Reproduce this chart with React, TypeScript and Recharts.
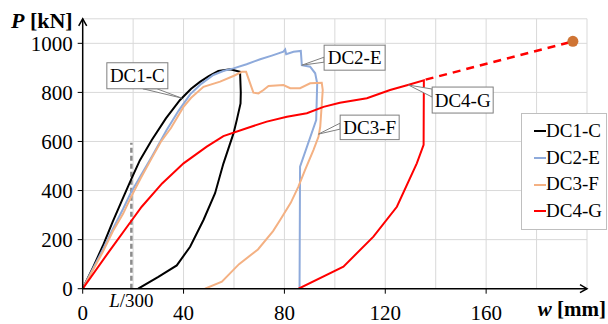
import {
  ComposedChart,
  Line,
  XAxis,
  YAxis,
  ReferenceLine,
  ReferenceDot,
  Legend,
} from "recharts";

const FONT = "Liberation Serif";

// load–deflection curves, w [mm] vs P [kN]
const dc1 = [
  { w: 0, p: 0 }, { w: 4, p: 85 }, { w: 8, p: 175 }, { w: 12, p: 275 }, { w: 16, p: 370 },
  { w: 19.4, p: 450 }, { w: 22.7, p: 524 }, { w: 27.4, p: 606 }, { w: 33, p: 694 }, { w: 38.6, p: 769 },
  { w: 43, p: 815 }, { w: 46.5, p: 843 }, { w: 50, p: 866 }, { w: 53.8, p: 887 }, { w: 58.5, p: 894 },
  { w: 62.4, p: 884 }, { w: 62.7, p: 800 }, { w: 62.6, p: 755 }, { w: 61.1, p: 687 }, { w: 59.8, p: 633 },
  { w: 55.8, p: 510 }, { w: 52.5, p: 389 }, { w: 47.9, p: 280 }, { w: 42.6, p: 171 }, { w: 37.3, p: 95 },
  { w: 30, p: 48 }, { w: 22, p: 0 },
];

const dc2 = [
  { w: 0, p: 0 }, { w: 4, p: 80 }, { w: 8, p: 160 }, { w: 12, p: 245 }, { w: 16, p: 325 },
  { w: 19, p: 389 }, { w: 23, p: 460 }, { w: 27.4, p: 538 }, { w: 33.3, p: 647 }, { w: 38, p: 725 },
  { w: 42.6, p: 792 }, { w: 47, p: 835 }, { w: 51.8, p: 871 }, { w: 56, p: 888 }, { w: 59.8, p: 898 },
  { w: 65, p: 915 }, { w: 70.4, p: 935 }, { w: 75, p: 950 }, { w: 79.6, p: 966 }, { w: 80.3, p: 975 },
  { w: 80.7, p: 956 }, { w: 83.6, p: 966 }, { w: 86.5, p: 969 }, { w: 86.9, p: 911 }, { w: 90.2, p: 905 },
  { w: 92.2, p: 878 }, { w: 93, p: 837 }, { w: 92.6, p: 687 }, { w: 86.2, p: 497 }, { w: 86, p: 0 },
];

const dc3 = [
  { w: 0, p: 0 }, { w: 4, p: 75 }, { w: 8, p: 150 }, { w: 12, p: 235 }, { w: 16, p: 305 },
  { w: 19, p: 370 }, { w: 23, p: 450 }, { w: 27, p: 525 }, { w: 31, p: 599 }, { w: 35, p: 655 },
  { w: 39.9, p: 740 }, { w: 43, p: 778 }, { w: 47.9, p: 823 }, { w: 54.5, p: 844 }, { w: 60, p: 868 },
  { w: 63.1, p: 884 }, { w: 64.8, p: 884 }, { w: 66.4, p: 837 }, { w: 67.7, p: 799 }, { w: 69.7, p: 796 },
  { w: 71.7, p: 810 }, { w: 73.7, p: 826 }, { w: 79.6, p: 830 }, { w: 82.3, p: 817 }, { w: 86.2, p: 817 },
  { w: 90.2, p: 837 }, { w: 94.8, p: 839 }, { w: 95.2, p: 810 }, { w: 94.2, p: 660 }, { w: 93.5, p: 619 },
  { w: 91.5, p: 565 }, { w: 88.2, p: 484 }, { w: 85.5, p: 415 }, { w: 82.5, p: 350 }, { w: 78.3, p: 280 },
  { w: 75.5, p: 235 }, { w: 69.5, p: 160 }, { w: 62, p: 100 }, { w: 55.2, p: 29 }, { w: 48.5, p: 0 },
];

const dc4 = [
  { w: 0, p: 0 }, { w: 10, p: 145 }, { w: 19.4, p: 278 }, { w: 23.4, p: 334 },
  { w: 31.5, p: 429 }, { w: 40, p: 511 }, { w: 49.2, p: 579 }, { w: 55.8, p: 622 }, { w: 65, p: 654 },
  { w: 73, p: 681 }, { w: 81, p: 701 }, { w: 88.9, p: 715 }, { w: 95.5, p: 741 }, { w: 102, p: 758 },
  { w: 112.7, p: 776 }, { w: 121.9, p: 810 }, { w: 128.6, p: 829 }, { w: 135.3, p: 849 },
  { w: 135.2, p: 586 }, { w: 132.5, p: 511 }, { w: 124.6, p: 334 }, { w: 115.3, p: 212 },
  { w: 103.4, p: 90 }, { w: 85.6, p: 0 },
];

// extrapolated branch of DC4-G and its end point
const dc4Ext = [{ w: 136, p: 852 }, { w: 194.4, p: 1008 }];
const endPoint = { w: 194.4, p: 1008 };

const lOver300 = 19.3;
const lOver300Top = 595;

const xTicks = [0, 40, 80, 120, 160];
const yTicks = [0, 200, 400, 600, 800, 1000];
const xGrid = [20, 40, 60, 80, 100, 120, 140, 160, 180, 200];
const yGrid = [200, 400, 600, 800, 1000, 1100];

const series = [
  { name: "DC1-C", data: dc1, color: "#000000" },
  { name: "DC2-E", data: dc2, color: "#8eaadb" },
  { name: "DC3-F", data: dc3, color: "#f4b183" },
  { name: "DC4-G", data: dc4, color: "#ff0000" },
];

// callout anchors on curves
const callouts = [
  { name: "DC1-C", w: 39.2, p: 777, box: [-74.7, -35.3, 61, 26], side: "bottom", base: [36, 50] },
  { name: "DC2-E", w: 86.9, p: 911, box: [22.3, -20, 61, 25], side: "left", base: [12, 17] },
  { name: "DC3-F", w: 93.5, p: 630, box: [21.7, -19, 59, 24.5], side: "left", base: [8, 14] },
  { name: "DC4-G", w: 129.2, p: 830, box: [23.7, 2, 61, 26], side: "left", base: [2, 10] },
];

function Callout(props: any) {
  const { cx, cy, c } = props;
  const [dx, dy, bw, bh] = c.box;
  const bx = cx + dx;
  const by = cy + dy;
  let a: number[], b: number[];
  if (c.side === "bottom") {
    a = [bx + c.base[0], by + bh];
    b = [bx + c.base[1], by + bh];
  } else {
    a = [bx, by + c.base[0]];
    b = [bx, by + c.base[1]];
  }
  return (
    <g>
      <polygon
        points={`${cx},${cy} ${a[0]},${a[1]} ${b[0]},${b[1]}`}
        fill="#ffffff"
        stroke="#7f7f7f"
        strokeWidth={1}
      />
      <rect x={bx} y={by} width={bw} height={bh} fill="#ffffff" stroke="#7f7f7f" strokeWidth={1} />
      <text
        x={bx + bw / 2}
        y={by + bh / 2 + 6.5}
        textAnchor="middle"
        fontFamily={FONT}
        fontSize={19}
        fill="#000"
      >
        {c.name}
      </text>
    </g>
  );
}

function LegendBox() {
  return (
    <div
      style={{
        border: "1px solid #bfbfbf",
        background: "#fff",
        padding: "4px 4px 4px 12px",
        fontFamily: FONT,
        fontSize: 19,
        lineHeight: "26.7px",
        width: 68,
      }}
    >
      {series.map((s) => (
        <div key={s.name} style={{ display: "flex", alignItems: "center", whiteSpace: "nowrap" }}>
          <span style={{ display: "inline-block", width: 12, height: 2, background: s.color }} />
          <span>{s.name}</span>
        </div>
      ))}
    </div>
  );
}

export default function App() {
  return (
    <div style={{ position: "absolute", left: 0, top: 0, width: 608, height: 324, background: "#fff" }}>
      <ComposedChart
        width={608}
        height={324}
        margin={{ top: 18.8, right: 21, bottom: 5.3, left: 22.7 }}
      >
        {xGrid.map((v) => (
          <ReferenceLine key={"gx" + v} x={v} stroke="#d9d9d9" strokeWidth={1} />
        ))}
        {yGrid.map((v) => (
          <ReferenceLine key={"gy" + v} y={v} stroke="#d9d9d9" strokeWidth={1} />
        ))}
        <XAxis
          type="number"
          dataKey="w"
          domain={[0, 200]}
          ticks={xTicks}
          height={30}
          allowDataOverflow
          axisLine={{ stroke: "#000", strokeWidth: 1.5 }}
          tickLine={{ stroke: "#000" }}
          tickSize={5}
          tickMargin={11}
          tick={{ fill: "#000", fontFamily: FONT, fontSize: 21 }}
          label={{
            content: (lp: any) => {
              const vb = lp.viewBox;
              return (
                <text
                  x={vb.x + vb.width + 19}
                  y={vb.y + 27.5}
                  textAnchor="end"
                  fontFamily={FONT}
                  fontSize={21}
                  fontWeight="bold"
                  fill="#000"
                >
                  <tspan fontStyle="italic">w</tspan>
                  <tspan> [mm]</tspan>
                </text>
              );
            },
          }}
        />
        <YAxis
          type="number"
          domain={[0, 1100]}
          ticks={yTicks}
          width={60}
          allowDataOverflow
          axisLine={{ stroke: "#000", strokeWidth: 1.5 }}
          tickLine={{ stroke: "#000" }}
          tickSize={5}
          tickMargin={5}
          tick={{ fill: "#000", fontFamily: FONT, fontSize: 21 }}
          label={{
            content: (lp: any) => {
              const vb = lp.viewBox;
              return (
                <text
                  x={vb.x + vb.width - 10}
                  y={vb.y + 9}
                  textAnchor="end"
                  fontFamily={FONT}
                  fontSize={22}
                  fontWeight="bold"
                  fill="#000"
                >
                  <tspan fontStyle="italic">P</tspan>
                  <tspan> [kN]</tspan>
                </text>
              );
            },
          }}
        />
        <ReferenceLine
          segment={[
            { x: lOver300, y: 0 },
            { x: lOver300, y: lOver300Top },
          ]}
          stroke="#8c8c8c"
          strokeWidth={2.5}
          strokeDasharray="5 3"
        />
        <ReferenceDot
          x={lOver300}
          y={0}
          r={0}
          shape={(sp: any) => (
            <text
              x={sp.cx}
              y={sp.cy + 18}
              textAnchor="middle"
              fontFamily={FONT}
              fontSize={19}
              fill="#000"
            >
              <tspan fontStyle="italic">L</tspan>
              <tspan>/300</tspan>
            </text>
          )}
        />
        {series.map((s) => (
          <Line
            key={s.name}
            name={s.name}
            data={s.data}
            dataKey="p"
            type="linear"
            stroke={s.color}
            strokeWidth={2}
            dot={false}
            activeDot={false}
            isAnimationActive={false}
            legendType="plainline"
          />
        ))}
        <Line
          data={dc4Ext}
          dataKey="p"
          type="linear"
          stroke="#ff0000"
          strokeWidth={2.5}
          strokeDasharray="8 6"
          dot={false}
          activeDot={false}
          isAnimationActive={false}
          legendType="none"
        />
        <ReferenceDot x={endPoint.w} y={endPoint.p} r={5.5} fill="#cf7434" stroke="none" />
        {callouts.map((c) => (
          <ReferenceDot
            key={"c" + c.name}
            x={c.w}
            y={c.p}
            r={0}
            shape={(sp: any) => <Callout {...sp} c={c} />}
          />
        ))}
        <ReferenceDot
          x={0}
          y={1100}
          r={0}
          shape={(sp: any) => (
            <path
              d={`M${sp.cx - 4},${sp.cy + 7} L${sp.cx},${sp.cy} L${sp.cx + 4},${sp.cy + 7}`}
              stroke="#000"
              strokeWidth={1.5}
              fill="none"
            />
          )}
        />
        <ReferenceDot
          x={200}
          y={0}
          r={0}
          shape={(sp: any) => (
            <path
              d={`M${sp.cx - 7},${sp.cy - 4} L${sp.cx},${sp.cy} L${sp.cx - 7},${sp.cy + 4}`}
              stroke="#000"
              strokeWidth={1.5}
              fill="none"
            />
          )}
        />
        <Legend
          layout="vertical"
          align="center"
          verticalAlign="middle"
          content={() => <LegendBox />}
          wrapperStyle={{ left: 521, top: 113, width: 86, height: "auto" }}
        />
      </ComposedChart>
    </div>
  );
}
